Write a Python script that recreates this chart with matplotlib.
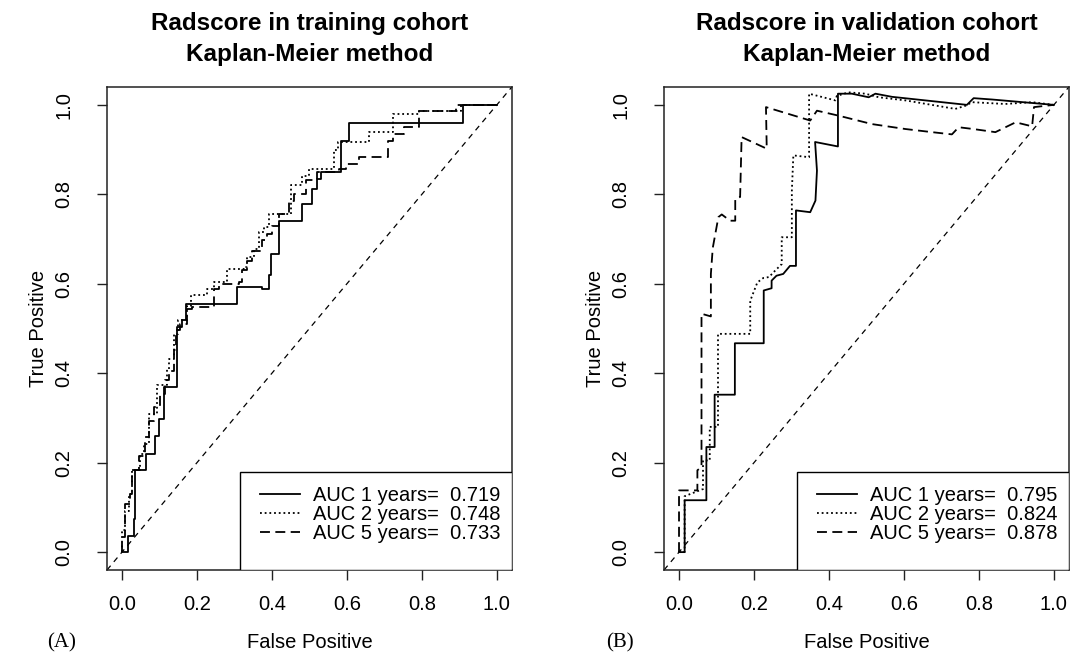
import numpy as np
import matplotlib
matplotlib.use("Agg")
import matplotlib.pyplot as plt
from matplotlib.patches import Rectangle

plt.rcParams['font.family'] = ['Liberation Sans', 'DejaVu Sans']

""" Data (read off the reference) """

# Training cohort, step curves (breakpoints, drawn as steps-post)
train_fpr_1y = [0, 0.016, 0.031, 0.034, 0.065, 0.089, 0.098, 0.113, 0.147, 0.160, 0.171, 0.307,
                0.374, 0.392, 0.397, 0.419, 0.481, 0.508, 0.521, 0.530, 0.584, 0.606, 0.909, 1.0]
train_tpr_1y = [0, 0.037, 0.075, 0.183, 0.220, 0.260, 0.298, 0.369, 0.503, 0.518, 0.555, 0.592,
                0.589, 0.620, 0.667, 0.741, 0.779, 0.812, 0.835, 0.850, 0.920, 0.959, 1.0, 1.0]

train_fpr_2y = [0, 0, 0.009, 0.018, 0.027, 0.049, 0.058, 0.071, 0.094, 0.120, 0.125, 0.138, 0.149,
                0.174, 0.185, 0.227, 0.245, 0.281, 0.325, 0.334, 0.352, 0.365, 0.379, 0.392, 0.450,
                0.481, 0.499, 0.566, 0.575, 0.660, 0.722, 0.793, 0.905, 1.0]
train_tpr_2y = [0, 0.050, 0.093, 0.130, 0.183, 0.220, 0.242, 0.309, 0.373, 0.410, 0.432, 0.488, 0.518,
                0.551, 0.574, 0.589, 0.604, 0.633, 0.637, 0.659, 0.678, 0.715, 0.727, 0.756, 0.820,
                0.842, 0.857, 0.898, 0.917, 0.939, 0.980, 0.987, 1.0, 1.0]

train_fpr_5y = [0, 0, 0.009, 0.022, 0.027, 0.045, 0.062, 0.071, 0.085, 0.102, 0.116, 0.125, 0.138,
                0.143, 0.156, 0.174, 0.187, 0.245, 0.258, 0.312, 0.321, 0.334, 0.348, 0.374, 0.388,
                0.401, 0.419, 0.446, 0.459, 0.490, 0.521, 0.579, 0.597, 0.633, 0.709, 0.722, 0.753,
                0.793, 0.891, 1.0]
train_tpr_5y = [0, 0.034, 0.108, 0.130, 0.183, 0.216, 0.257, 0.294, 0.324, 0.354, 0.384, 0.406, 0.451,
                0.496, 0.510, 0.544, 0.549, 0.589, 0.600, 0.604, 0.630, 0.652, 0.674, 0.697, 0.712,
                0.730, 0.756, 0.786, 0.801, 0.831, 0.849, 0.857, 0.868, 0.883, 0.920, 0.935, 0.950,
                0.987, 1.0, 1.0]

train_auc = [0.719, 0.748, 0.733]

# Validation cohort, curves as drawn (polylines)
valid_fpr_1y = [0, 0.015, 0.015, 0.073, 0.073, 0.095, 0.095, 0.149, 0.149, 0.226, 0.226, 0.247, 0.247,
                0.260, 0.278, 0.296, 0.312, 0.312, 0.350, 0.364, 0.368, 0.363, 0.424, 0.424, 0.461,
                0.506, 0.524, 0.568, 0.746, 0.768, 0.786, 0.835, 1.0]
valid_tpr_1y = [0, 0, 0.116, 0.116, 0.235, 0.235, 0.352, 0.352, 0.467, 0.467, 0.585, 0.590, 0.607,
                0.618, 0.622, 0.640, 0.640, 0.764, 0.760, 0.786, 0.853, 0.917, 0.907, 1.025, 1.025,
                1.017, 1.025, 1.018, 1.002, 1.0, 1.015, 1.012, 1.0]

valid_fpr_2y = [0, 0.015, 0.015, 0.064, 0.064, 0.082, 0.082, 0.104, 0.104, 0.190, 0.190, 0.209, 0.225,
                0.240, 0.256, 0.274, 0.274, 0.301, 0.301, 0.305, 0.347, 0.347, 0.417, 0.421, 0.452,
                0.497, 0.533, 0.604, 0.737, 0.764, 0.782, 0.870, 0.942, 1.0]
valid_tpr_2y = [0, 0, 0.125, 0.141, 0.205, 0.205, 0.280, 0.280, 0.488, 0.488, 0.562, 0.603, 0.613,
                0.615, 0.629, 0.644, 0.704, 0.704, 0.807, 0.887, 0.883, 1.025, 1.010, 1.020, 1.028,
                1.025, 1.017, 1.010, 0.991, 0.998, 1.006, 1.002, 1.006, 1.0]

valid_fpr_5y = [0, 0, 0.049, 0.049, 0.060, 0.060, 0.085, 0.085, 0.090, 0.105, 0.114, 0.136, 0.150,
                0.150, 0.163, 0.167, 0.234, 0.232, 0.350, 0.368, 0.425, 0.515, 0.604, 0.675, 0.728,
                0.746, 0.785, 0.844, 0.898, 0.942, 0.947, 1.0]
valid_tpr_5y = [0, 0.138, 0.138, 0.183, 0.190, 0.533, 0.527, 0.622, 0.680, 0.749, 0.755, 0.741, 0.741,
                0.790, 0.794, 0.928, 0.902, 0.995, 0.965, 0.987, 0.976, 0.957, 0.946, 0.939, 0.934,
                0.950, 0.946, 0.939, 0.961, 0.952, 0.995, 1.0]

valid_auc = [0.795, 0.824, 0.878]

years = [1, 2, 5]
ticks = [0.0, 0.2, 0.4, 0.6, 0.8, 1.0]
tick_labels = ['0.0', '0.2', '0.4', '0.6', '0.8', '1.0']

""" Plot """

styles = ['-', (0, (1, 1.6)), (0, (5.5, 3))]

fig = plt.figure(figsize=(10.71, 6.53), dpi=100)


def draw_panel(ax, curves, aucs, title, steps):
    for (fpr, tpr), ls, yr, auc in zip(curves, styles, years, aucs):
        ax.plot(fpr, tpr, color='black', lw=1.3, linestyle=ls,
                drawstyle='steps-post' if steps else 'default',
                label='AUC %d years=  %.3f' % (yr, auc))
    ax.axline((0, 0), (1, 1), color='black', lw=0.9, linestyle=(0, (4.5, 4)))

    ax.set_xlim(-0.04, 1.04)
    ax.set_ylim(-0.04, 1.04)
    ax.set_xticks(ticks)
    ax.set_xticklabels(tick_labels)
    ax.set_yticks(ticks)
    ax.set_yticklabels(tick_labels, rotation=90, va='center')
    ax.tick_params(axis='both', length=7, width=1, labelsize=14.5, color='#222222')
    ax.tick_params(axis='x', pad=11)
    ax.tick_params(axis='y', pad=17)
    for sp in ax.spines.values():
        sp.set_color('#222222')
        sp.set_linewidth(1.1)

    ax.set_xlabel('False Positive', fontsize=14.5, va='center')
    ax.set_ylabel('True Positive', fontsize=14.5, va='center')
    ax.xaxis.set_label_coords(0.5, -0.151)
    ax.yaxis.set_label_coords(-0.170, 0.5)

    ax.set_title(title, fontsize=17.5, fontweight='bold', linespacing=1.42, pad=19)

    # legend box (R style: square, touching the lower right corner)
    ax.add_patch(Rectangle((0.328, 0), 0.672, 0.203, transform=ax.transAxes,
                           facecolor='white', edgecolor='black', lw=1.0, zorder=4))
    leg = ax.legend(loc='center right', bbox_to_anchor=(0.972, 0.115), frameon=False,
                    borderpad=0, borderaxespad=0, fontsize=14.5,
                    handlelength=2.0, handletextpad=0.65, labelspacing=-0.02)
    leg.set_zorder(5)


ax1 = fig.add_axes([0.0999, 0.1271, 0.378, 0.7397])
draw_panel(ax1,
           [(train_fpr_1y, train_tpr_1y), (train_fpr_2y, train_tpr_2y), (train_fpr_5y, train_tpr_5y)],
           train_auc, 'Radscore in training cohort\nKaplan-Meier method', True)

ax2 = fig.add_axes([0.620, 0.1271, 0.378, 0.7397])
draw_panel(ax2,
           [(valid_fpr_1y, valid_tpr_1y), (valid_fpr_2y, valid_tpr_2y), (valid_fpr_5y, valid_tpr_5y)],
           valid_auc, 'Radscore in validation cohort\nKaplan-Meier method', False)

fig.text(0.044, 0.016, '(A)', family='Liberation Serif', fontsize=15, va='center', ha='left')
fig.text(0.566, 0.016, '(B)', family='Liberation Serif', fontsize=15, va='center', ha='left')

plt.savefig('out.png', dpi=100)
